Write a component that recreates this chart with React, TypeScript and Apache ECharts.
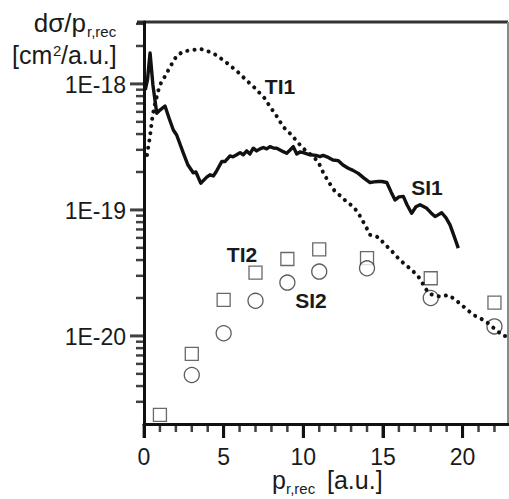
import React, { useEffect, useRef } from 'react';
import * as echarts from 'echarts';

const FONT = '"Liberation Sans", Arial, Helvetica, sans-serif';

// Tick positions and labels
const xMajorTicks = [0, 5, 10, 15, 20];
const xMinorTicks = [1, 2, 3, 4, 6, 7, 8, 9, 11, 12, 13, 14, 16, 17, 18, 19, 21, 22];
const yMajorTicks = [1e-20, 1e-19, 1e-18];
const yMajorLabels = ['1E-20', '1E-19', '1E-18'];
const yMinorTicks = [
  3e-21, 4e-21, 5e-21, 6e-21, 7e-21, 8e-21, 9e-21,
  2e-20, 3e-20, 4e-20, 5e-20, 6e-20, 7e-20, 8e-20, 9e-20,
  2e-19, 3e-19, 4e-19, 5e-19, 6e-19, 7e-19, 8e-19, 9e-19,
  2e-18, 3e-18,
];

// SI1 (solid line): [p_r,rec, dσ/dp]
const si1: [number, number][] = [
  [0.08, 8.96e-19], [0.22, 1.08e-18], [0.38, 1.76e-18], [0.56, 9.8e-19], [0.8, 5.85e-19],
  [1.0, 6.2e-19], [1.32, 6.68e-19], [1.57, 5.37e-19], [1.84, 4.31e-19], [2.05, 3.93e-19],
  [2.47, 2.82e-19], [2.76, 2.27e-19], [3.09, 1.97e-19], [3.26, 2.0e-19], [3.56, 1.63e-19],
  [3.94, 1.82e-19], [4.14, 1.9e-19], [4.35, 1.86e-19], [4.52, 2.0e-19], [4.88, 2.42e-19],
  [5.08, 2.42e-19], [5.4, 2.68e-19], [5.59, 2.64e-19], [5.82, 2.74e-19], [6.03, 2.85e-19],
  [6.23, 2.74e-19], [6.45, 2.94e-19], [6.65, 2.78e-19], [6.86, 3.09e-19], [7.07, 2.94e-19],
  [7.28, 3.05e-19], [7.49, 3.13e-19], [7.7, 3.05e-19], [7.91, 3.18e-19], [8.12, 3.1e-19],
  [8.33, 3.09e-19], [8.54, 2.99e-19], [8.74, 2.9e-19], [8.96, 2.82e-19], [9.17, 2.99e-19],
  [9.37, 3.18e-19], [9.59, 2.78e-19], [9.79, 2.88e-19], [10.0, 2.85e-19], [10.42, 2.74e-19],
  [10.8, 2.71e-19], [11.05, 2.65e-19], [11.24, 2.71e-19], [11.57, 2.61e-19], [11.86, 2.49e-19],
  [12.2, 2.46e-19], [12.49, 2.27e-19], [12.82, 2.14e-19], [13.12, 2.06e-19], [13.45, 1.95e-19],
  [13.81, 1.79e-19], [14.19, 1.65e-19], [14.44, 1.67e-19], [14.71, 1.68e-19], [14.94, 1.68e-19],
  [15.24, 1.65e-19], [15.51, 1.39e-19], [15.76, 1.2e-19], [16.01, 1.27e-19], [16.28, 1.28e-19],
  [16.51, 1.1e-19], [16.8, 9.4e-20], [17.07, 1.06e-19], [17.33, 1.1e-19], [17.75, 1.03e-19],
  [18.02, 9.46e-20], [18.27, 8.85e-20], [18.69, 9.5e-20], [18.96, 8.65e-20], [19.21, 7.6e-20],
  [19.46, 6.22e-20], [19.73, 4.97e-20],
];

// TI1 (dotted line)
const ti1: [number, number][] = [
  [0.19, 2.73e-19], [0.38, 3.86e-19], [0.5, 5.18e-19], [0.63, 6.45e-19], [0.78, 7.74e-19],
  [0.91, 8.96e-19], [1.07, 1.02e-18], [1.32, 1.15e-18], [1.63, 1.36e-18], [2.05, 1.67e-18],
  [2.47, 1.81e-18], [3.09, 1.86e-18], [3.52, 1.9e-18], [3.94, 1.83e-18], [4.35, 1.75e-18],
  [4.66, 1.65e-18], [5.29, 1.44e-18], [6.03, 1.2e-18], [6.45, 1.06e-18], [6.86, 9.55e-19],
  [7.17, 8.69e-19], [7.53, 7.82e-19], [7.91, 6.61e-19], [8.32, 5.57e-19], [8.74, 4.56e-19],
  [9.26, 3.94e-19], [9.79, 3.28e-19], [10.21, 2.9e-19], [10.63, 2.65e-19], [10.94, 2.4e-19],
  [11.26, 1.97e-19], [11.57, 1.68e-19], [11.99, 1.4e-19], [12.41, 1.27e-19], [12.72, 1.16e-19],
  [13.14, 1.06e-19], [13.45, 9.46e-20], [13.69, 8.34e-20], [13.98, 7.16e-20], [14.19, 6.34e-20],
  [14.5, 6.22e-20], [14.81, 5.96e-20], [15.07, 5.37e-20], [15.44, 4.9e-20], [15.86, 4.26e-20],
  [16.28, 3.79e-20], [16.81, 3.34e-20], [17.22, 2.96e-20], [17.43, 2.7e-20], [17.64, 2.4e-20],
  [17.95, 2.15e-20], [18.58, 2.05e-20], [19.1, 2.11e-20], [19.52, 1.95e-20], [19.94, 1.76e-20],
  [20.3, 1.61e-20], [20.67, 1.47e-20], [21.09, 1.38e-20], [21.41, 1.32e-20], [21.83, 1.19e-20],
  [22.24, 1.08e-20], [22.56, 1.0e-20], [22.85, 1.0e-20],
];

// TI2 (open squares) and SI2 (open circles)
const ti2X = [1, 3, 5, 7, 9, 11, 14, 18, 22];
const ti2Y = [2.36e-21, 7.2e-21, 1.93e-20, 3.18e-20, 4.08e-20, 4.87e-20, 4.14e-20, 2.87e-20, 1.84e-20];
const si2X = [3, 5, 7, 9, 11, 14, 18, 22];
const si2Y = [4.9e-21, 1.05e-20, 1.9e-20, 2.65e-20, 3.24e-20, 3.44e-20, 2.0e-20, 1.19e-20];

const lg = (v: number) => Math.log10(v);
const X_MIN = 0;
const X_MAX = 22.85;
const Y_MIN = lg(2e-21);
const Y_MAX = lg(3.1e-18);

export default function App() {
  const ref = useRef<HTMLDivElement>(null);

  useEffect(() => {
    if (!ref.current) return;
    const chart = echarts.init(ref.current, undefined, { renderer: 'svg' });

    const text = (t: string, x: number, y: number, size: number, opts: any = {}) => ({
      type: 'text',
      x,
      y,
      style: {
        text: t,
        fill: '#1a1a1a',
        font: `${opts.bold ? 'bold ' : ''}${size}px ${FONT}`,
        align: opts.align || 'left',
        verticalAlign: 'middle',
      },
    });

    // tick marks: thin rect symbols placed through the axes' own scales
    const tickSeries = (data: number[][], dir: 'x' | 'y', len: number, width: number) => ({
      type: 'scatter',
      clip: false,
      data,
      symbol: 'rect',
      symbolSize: dir === 'y' ? [len, width] : [width, len],
      symbolOffset: dir === 'y' ? [-len / 2, 0] : [0, len / 2],
      itemStyle: { color: '#111' },
    });

    const option: any = {
      animation: false,
      backgroundColor: '#ffffff',
      grid: { left: 144, top: 22, width: 364, height: 402 },
      xAxis: [
        {
          type: 'value',
          min: X_MIN,
          max: X_MAX,
          interval: 5,
          splitLine: { show: false },
          axisLine: { show: true, onZero: false, lineStyle: { color: '#111', width: 3 } },
          axisTick: { show: true, length: 14, lineStyle: { color: '#111', width: 3 } },
          axisLabel: {
            show: true,
            showMaxLabel: false,
            formatter: (v: number) => (v % 5 === 0 ? String(v) : ''),
            fontSize: 23,
            fontFamily: FONT,
            color: '#1a1a1a',
            margin: 21,
          },
        },
      ],
      yAxis: [
        {
          type: 'value',
          min: Y_MIN,
          max: Y_MAX,
          splitLine: { show: false },
          axisLine: { show: true, onZero: false, lineStyle: { color: '#111', width: 3 } },
          axisTick: { show: false },
          axisLabel: { show: false },
        },
      ],
      series: [
        {
          name: 'TI1',
          type: 'line',
          data: ti1.map(([x, y]) => [x, lg(y)]),
          symbol: 'none',
          lineStyle: { color: '#111', width: 4, type: [0.1, 7.2], cap: 'round' },
        },
        {
          name: 'SI1',
          type: 'line',
          data: si1.map(([x, y]) => [x, lg(y)]),
          symbol: 'none',
          lineStyle: { color: '#111', width: 3.4, join: 'round' },
        },
        {
          name: 'TI2',
          type: 'scatter',
          data: ti2X.map((x, i) => [x, lg(ti2Y[i])]),
          symbol: 'rect',
          symbolSize: 13,
          itemStyle: { color: '#ffffff', borderColor: '#444', borderWidth: 1.3 },
        },
        {
          name: 'SI2',
          type: 'scatter',
          data: si2X.map((x, i) => [x, lg(si2Y[i])]),
          symbol: 'circle',
          symbolSize: 15,
          itemStyle: { color: '#ffffff', borderColor: '#333', borderWidth: 1.3 },
        },
        tickSeries(xMinorTicks.map((v) => [v, Y_MIN]), 'x', 8, 2.5),
        tickSeries(xMajorTicks.map((v) => [v, Y_MIN]), 'x', 14, 3),
        tickSeries(yMajorTicks.map((v) => [X_MIN, lg(v)]), 'y', 14, 3),
        tickSeries(yMinorTicks.map((v) => [X_MIN, lg(v)]), 'y', 8, 2.5),
      ],
    };

    chart.setOption(option);

    const toPx = (x: number, y: number) =>
      chart.convertToPixel({ xAxisIndex: 0, yAxisIndex: 0 }, [x, y]) as number[];
    const tl = toPx(X_MIN, Y_MAX);
    const tr = toPx(X_MAX, Y_MAX);
    const br = toPx(X_MAX, Y_MIN);

    const yLabels = yMajorTicks.map((v, i) => {
      const p = toPx(X_MIN, lg(v));
      return text(yMajorLabels[i], p[0] - 18, p[1] + 1, 23, { align: 'right' });
    });

    chart.setOption({
      graphic: [
        { type: 'line', shape: { x1: tl[0] - 7, y1: tl[1], x2: tr[0], y2: tr[1] }, style: { stroke: '#333', lineWidth: 3 } },
        { type: 'line', shape: { x1: tr[0], y1: tr[1], x2: br[0], y2: br[1] }, style: { stroke: '#8a8a8a', lineWidth: 2 } },
        ...yLabels,
        text('TI1', 280, 86, 21, { bold: true, align: 'center' }),
        text('SI1', 427, 187, 21, { bold: true, align: 'center' }),
        text('TI2', 242, 254, 21, { bold: true, align: 'center' }),
        text('SI2', 311, 300, 21, { bold: true, align: 'center' }),
        // y-axis title
        text('dσ/p', 86, 23, 26, { align: 'right' }),
        text('r,rec', 87, 31, 15),
        text('[cm', 12, 54.5, 25),
        text('2', 53, 50.5, 15),
        text('/a.u.]', 61, 54.5, 25),
        // x-axis title
        text('p', 272, 479.5, 25),
        text('r,rec', 286, 488, 15),
        text('[a.u.]', 327, 479.5, 25),
      ],
    });

    return () => chart.dispose();
  }, []);

  return (
    <div
      ref={ref}
      style={{ position: 'fixed', left: 0, top: 0, width: 509, height: 499, background: '#fff' }}
    />
  );
}
